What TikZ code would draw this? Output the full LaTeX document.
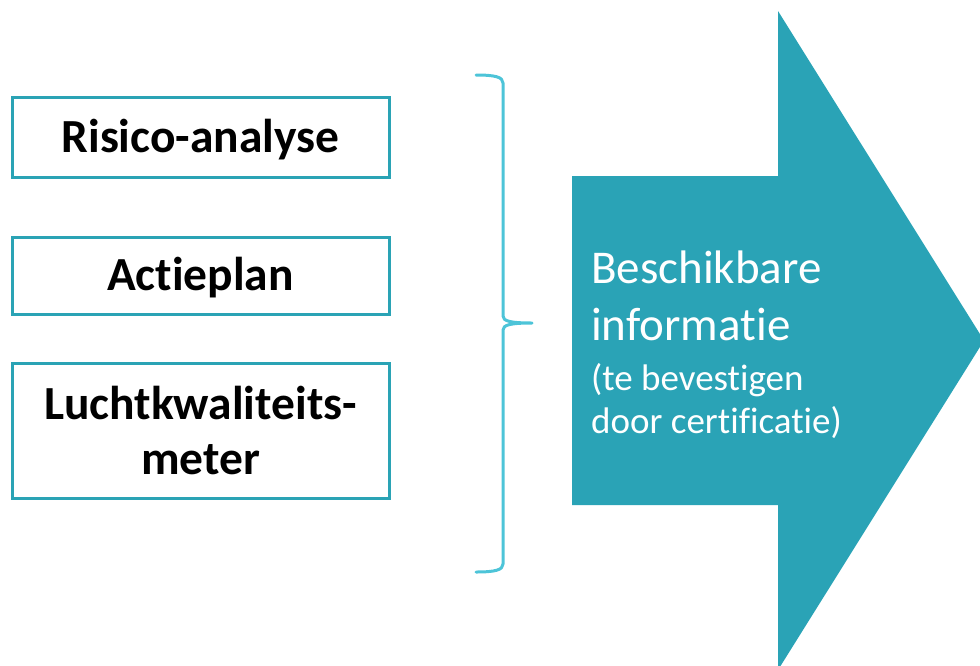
\documentclass[tikz,border=0pt]{standalone}
\usepackage{fontspec}
\setmainfont[Ligatures=NoCommon]{Carlito}
\definecolor{boxteal}{HTML}{2AA3B5}
\definecolor{bracecyan}{HTML}{4DC4D8}
\definecolor{arrowteal}{HTML}{2AA3B6}
\begin{document}
\begin{tikzpicture}[x=1pt,y=-1pt,
  stepbox/.style={draw=boxteal,line width=3pt,fill=white,minimum width=377pt,align=center,
    font=\fontsize{47.5}{55}\selectfont\bfseries,text=black,inner sep=0pt},
  bracestyle/.style={draw=bracecyan,line width=3pt,line cap=round,line join=round}]
\useasboundingbox (0,0) rectangle (980,665);
\node[stepbox,minimum height=80pt,text height=30pt,text depth=0pt] (b1) at (200.5,137) {Risico-analyse};
\node[stepbox,minimum height=77pt,text height=30pt,text depth=0pt] (b2) at (200.5,275.5) {Actieplan};
\node[stepbox,minimum height=135pt] (b3) at (200.5,431) {Luchtkwaliteits-\\meter};
\coordinate (bt) at (476,75);
\coordinate (bm) at (532,323);
\coordinate (bb) at (476,572);
\draw[bracestyle] (bt) .. controls (495,75) and (503,77) .. (503,83) -- (503,316)
  .. controls (503,321) and (510,323) .. (bm) .. controls (510,323) and (503,325) .. (503,330)
  -- (503,564) .. controls (503,570) and (495,572) .. (bb);
\fill[arrowteal] (572,176) -- (778,176) -- (778,11) -- (984,340.5) -- (778,670) -- (778,505) -- (572,505) -- cycle;
\node[anchor=base west,inner sep=0pt,text=white,font=\fontsize{47}{57}\selectfont,align=left] (t1) at (591,340) {Beschikbare\\informatie};
\node[anchor=base west,inner sep=0pt,text=white,font=\fontsize{37}{43}\selectfont,align=left] (t2) at (591,433) {(te bevestigen\\door certificatie)};
\end{tikzpicture}
\end{document}
